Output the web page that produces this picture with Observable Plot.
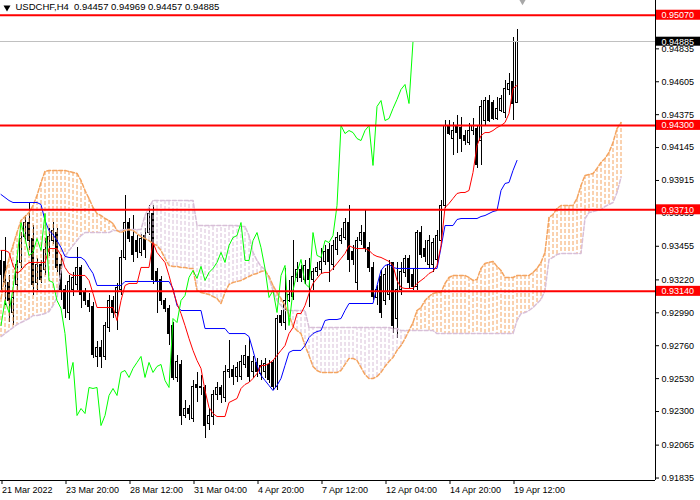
<!DOCTYPE html>
<html><head><meta charset="utf-8">
<script src="https://cdn.jsdelivr.net/npm/d3@7"></script>
<script src="https://cdn.jsdelivr.net/npm/@observablehq/plot@0.6"></script>
<style>
html,body{margin:0;padding:0;background:#fff;}
#chart svg{display:block}
</style>
</head><body><div id="chart"></div>
<script>
// USDCHF H4 candles (bar index 0 = 21 Mar 2022 00:00)
const open = [
.93349,.93342,.93195,.92992,.93181,.93335,.93523,.93621,.93509,.93195,
.93321,.93286,.93412,.93495,.93551,.93321,.93146,.92992,.93146,.93181,
.93300,.93125,.93076,.93034,.92678,.92747,.92678,.92887,.93076,.92992,
.93146,.93370,.93621,.93523,.93495,.93405,.93530,.93551,.93684,.93272,
.93216,.93076,.93020,.92901,.92531,.92622,.92272,.92321,.92251,.92482,
.92461,.92461,.92216,.92265,.92412,.92461,.92391,.92573,.92587,.92538,
.92538,.92622,.92678,.92573,.92636,.92559,.92573,.92622,.92636,.92468,
.92971,.92922,.93076,.93097,.93230,.93286,.93216,.93286,.93216,.93272,
.93286,.93342,.93426,.93321,.93426,.93495,.93516,.93621,.93412,.93195,
.93495,.93551,.93446,.93300,.93090,.93237,.93076,.93111,.93335,.92950,
.93146,.93265,.93363,.93251,.93167,.93551,.93439,.93321,.93321,.93356,
.93495,.93740,.94299,.94208,.94299,.94285,.94229,.94180,.94264,.94278,
.94194,.94334,.94474,.94460,.94348,.94404,.94390,.94544,.94600,.94457];
const high = [
.93426,.93516,.93251,.93132,.93356,.93551,.93670,.93754,.93600,.93370,
.93356,.93509,.93579,.93621,.93579,.93391,.93181,.93251,.93272,.93446,
.93321,.93160,.93125,.93062,.92789,.92796,.92922,.93111,.93104,.93195,
.93426,.93810,.93649,.93670,.93530,.93537,.93579,.93740,.93740,.93300,
.93244,.93090,.93041,.92922,.92692,.92657,.92377,.92342,.92517,.92573,
.92552,.92482,.92321,.92447,.92503,.92482,.92622,.92796,.92622,.92643,
.92692,.92761,.92810,.92685,.92671,.92657,.92671,.92657,.92657,.92971,
.93006,.93300,.93216,.93495,.93342,.93321,.93356,.93370,.93300,.93342,
.93439,.93460,.93474,.93495,.93551,.93579,.93649,.93740,.93460,.93516,
.93600,.93705,.93481,.93342,.93181,.93286,.93300,.93356,.93342,.93342,
.93342,.93391,.93391,.93300,.93565,.93593,.93495,.93530,.93509,.93565,
.93775,.94334,.94334,.94320,.94369,.94355,.94264,.94313,.94348,.94299,
.94474,.94495,.94509,.94474,.94495,.94509,.94614,.94662,.94914,.94969];
const low = [
.93146,.93041,.92922,.92901,.93146,.93300,.93495,.93426,.93111,.93146,
.93195,.93251,.93384,.93467,.93272,.93076,.92950,.92936,.93104,.93146,
.93020,.93041,.92992,.92671,.92608,.92601,.92657,.92852,.92950,.92866,
.93111,.93356,.93481,.93342,.93370,.93384,.93370,.93530,.93188,.92985,
.93041,.92992,.92761,.92517,.92503,.92202,.92251,.92237,.92223,.92363,
.92412,.92111,.92167,.92202,.92377,.92356,.92363,.92531,.92482,.92503,
.92517,.92601,.92503,.92531,.92538,.92517,.92531,.92496,.92447,.92447,
.92894,.92866,.93062,.93076,.93202,.93202,.93188,.93027,.93146,.93244,
.93258,.93321,.93202,.93286,.93391,.93467,.93495,.93272,.93321,.93146,
.93460,.93412,.93272,.93076,.93041,.92950,.93041,.93076,.92845,.92810,
.93111,.93237,.93160,.93146,.93146,.93370,.93342,.93300,.93272,.93321,
.93474,.93719,.94229,.94090,.94104,.94111,.94159,.94159,.94229,.93999,
.94020,.94299,.94320,.94334,.94334,.94390,.94348,.94509,.94334,.94457];
const close = [
.93251,.93195,.93076,.93090,.93321,.93509,.93621,.93495,.93181,.93321,
.93216,.93426,.93523,.93565,.93300,.93146,.93020,.93202,.93230,.93300,
.93111,.93076,.93034,.92692,.92747,.92678,.92901,.93076,.92992,.93160,
.93370,.93621,.93509,.93391,.93412,.93509,.93426,.93684,.93216,.93202,
.93076,.93020,.92845,.92531,.92643,.92272,.92321,.92286,.92468,.92461,
.92468,.92202,.92272,.92412,.92461,.92412,.92573,.92587,.92538,.92601,
.92643,.92685,.92538,.92643,.92573,.92615,.92629,.92517,.92468,.92950,
.92922,.93076,.93111,.93237,.93286,.93230,.93314,.93216,.93272,.93300,
.93342,.93412,.93342,.93460,.93516,.93530,.93621,.93356,.93356,.93495,
.93551,.93446,.93300,.93097,.93146,.92992,.93251,.93321,.92901,.93146,
.93272,.93363,.93195,.93167,.93551,.93391,.93377,.93495,.93481,.93530,
.93740,.94299,.94243,.94264,.94250,.94208,.94194,.94264,.94299,.94020,
.94432,.94474,.94334,.94348,.94418,.94481,.94551,.94586,.94453,.94885];

// Ichimoku lines
const tenkan = [
.93426,.93426,.93412,.93321,.93265,.93286,.93321,.93342,.93342,.93342,
.93342,.93342,.93439,.93439,.93439,.93391,.93307,.93265,.93251,.93251,
.93251,.93251,.93216,.93125,.93027,.93027,.93027,.93027,.93027,.92936,
.93076,.93181,.93195,.93195,.93195,.93307,.93307,.93307,.93481,.93412,
.93377,.93342,.93251,.93146,.93055,.92985,.92901,.92810,.92727,.92657,
.92601,.92447,.92328,.92286,.92265,.92265,.92265,.92363,.92377,.92391,
.92461,.92489,.92503,.92531,.92566,.92622,.92622,.92636,.92657,.92692,
.92727,.92761,.92845,.92887,.92985,.92985,.93041,.93125,.93195,.93230,
.93265,.93272,.93272,.93300,.93335,.93370,.93405,.93460,.93446,.93439,
.93439,.93439,.93426,.93398,.93384,.93377,.93363,.93349,.93321,.93216,
.93167,.93160,.93160,.93160,.93195,.93216,.93237,.93265,.93279,.93321,
.93460,.93726,.93754,.93789,.93824,.93831,.93831,.93845,.93971,.94159,
.94229,.94250,.94250,.94264,.94285,.94299,.94320,.94383,.94558,.94579];
const kijun = [
.93817,.93796,.93775,.93761,.93761,.93761,.93761,.93761,.93761,.93761,
.93747,.93635,.93565,.93537,.93495,.93446,.93384,.93377,.93377,.93377,
.93377,.93356,.93307,.93265,.93181,.93181,.93181,.93181,.93181,.93181,
.93181,.93209,.93209,.93209,.93209,.93209,.93209,.93209,.93209,.93209,
.93209,.93209,.93209,.93160,.93041,.93006,.93006,.93006,.93006,.93006,
.93006,.92880,.92880,.92880,.92880,.92880,.92880,.92845,.92845,.92845,
.92845,.92845,.92824,.92727,.92622,.92552,.92517,.92482,.92447,.92482,
.92531,.92622,.92713,.92727,.92727,.92727,.92761,.92817,.92845,.92859,
.92866,.92936,.92943,.92943,.92943,.92950,.93006,.93055,.93055,.93055,
.93055,.93055,.93055,.93055,.93181,.93286,.93321,.93328,.93307,.93300,
.93300,.93300,.93300,.93300,.93300,.93300,.93300,.93300,.93300,.93300,
.93446,.93600,.93600,.93600,.93642,.93649,.93649,.93649,.93649,.93649,
.93663,.93670,.93684,.93698,.93705,.93845,.93894,.93901,.93985,.94055];
const spanA = [
.93090,.93251,.93370,.93460,.93551,.93635,.93663,.93691,.93740,.93810,
.93901,.93978,.93985,.93985,.93985,.93985,.93985,.93978,.93971,.93964,
.93915,.93845,.93789,.93726,.93684,.93670,.93649,.93635,.93614,.93565,
.93551,.93565,.93572,.93565,.93544,.93523,.93509,.93495,.93474,.93460,
.93426,.93370,.93321,.93314,.93314,.93307,.93307,.93300,.93300,.93146,
.93132,.93125,.93118,.93104,.93090,.93055,.93132,.93188,.93202,.93209,
.93216,.93230,.93244,.93258,.93265,.93279,.93286,.93244,.93181,.93132,
.93090,.93041,.92978,.92894,.92866,.92845,.92761,.92692,.92615,.92587,
.92573,.92573,.92573,.92573,.92573,.92587,.92629,.92671,.92671,.92657,
.92608,.92559,.92531,.92531,.92545,.92573,.92615,.92650,.92678,.92727,
.92761,.92810,.92866,.92922,.93006,.93027,.93076,.93104,.93125,.93132,
.93132,.93195,.93237,.93251,.93251,.93251,.93251,.93237,.93216,.93223,
.93300,.93335,.93342,.93349,.93314,.93286,.93237,.93237,.93237,.93251,
.93251,.93251,.93251,.93272,.93300,.93342,.93412,.93656,.93677,.93719,
.93740,.93740,.93740,.93740,.93789,.93880,.93950,.93957,.93964,.93999,
.94041,.94069,.94111,.94180,.94278,.94320];
const spanB = [
.92824,.92845,.92866,.92887,.92908,.92922,.92936,.92950,.92971,.92971,
.92978,.92985,.92999,.93041,.93097,.93286,.93384,.93426,.93460,.93495,
.93530,.93551,.93551,.93551,.93551,.93551,.93551,.93551,.93565,.93565,
.93565,.93572,.93572,.93572,.93572,.93572,.93670,.93726,.93775,.93775,
.93775,.93775,.93775,.93775,.93775,.93775,.93775,.93775,.93775,.93600,
.93600,.93600,.93600,.93600,.93600,.93600,.93600,.93600,.93600,.93600,
.93593,.93593,.93530,.93412,.93356,.93314,.93293,.93230,.93146,.93076,
.93041,.93006,.93006,.93006,.93006,.93006,.93006,.92887,.92887,.92887,
.92887,.92887,.92887,.92887,.92887,.92887,.92887,.92887,.92887,.92887,
.92887,.92887,.92887,.92887,.92887,.92887,.92887,.92887,.92880,.92880,
.92866,.92866,.92866,.92866,.92866,.92866,.92866,.92866,.92866,.92845,
.92845,.92845,.92845,.92845,.92845,.92845,.92845,.92845,.92845,.92845,
.92845,.92845,.92845,.92845,.92845,.92845,.92845,.92845,.92845,.92936,
.92985,.92992,.93006,.93027,.93055,.93083,.93146,.93363,.93377,.93398,
.93405,.93405,.93405,.93405,.93405,.93405,.93649,.93691,.93698,.93705,
.93712,.93733,.93747,.93761,.93831,.93936];

const xTickIndex = [0,16,32,48,64,80,96,112,128];
const xTickLabels = ["21 Mar 2022","23 Mar 20:00","28 Mar 12:00","31 Mar 04:00","4 Apr 20:00","7 Apr 12:00","12 Apr 04:00","14 Apr 20:00","19 Apr 12:00"];
const yTicks = [0.94835,0.94605,0.94375,0.94145,0.93915,0.93685,0.93455,0.93220,0.92990,0.92760,0.92530,0.92300,0.92065,0.91835];
const levels = [0.95070,0.94300,0.93710,0.93140];
const bid = [0.94885];
const header = "USDCHF,H4  0.94457 0.94969 0.94457 0.94885";
const chikouShift = 26;

const candles = open.map((o,i)=>({i, open:o, high:high[i], low:low[i], close:close[i]}));
const lines = tenkan.map((t,i)=>({i, tenkan:t, kijun:kijun[i]}));
const cloud = spanA.map((a,i)=>({i, a, b:spanB[i]}));
const chikou = candles.slice(chikouShift).map(d=>({i:d.i-chikouShift, close:d.close}));

const yDomain = [0.918178, 0.95173];
const px = (yDomain[1]-yDomain[0])/480;
const ORANGE = "#f4a460", THISTLE = "#d8bfd8";
const xAxisPos = 163.625, xRight = 174.875;

const chart = Plot.plot({
  width: 700, height: 500,
  marginLeft: 0, marginRight: 45, marginTop: 0, marginBottom: 20,
  x: {type: "linear", domain: [-0.125, xAxisPos]},
  y: {domain: yDomain},
  style: {fontFamily: "'Liberation Sans', Arial, sans-serif", fontSize: "9px", background: "#fff", color: "#000", overflow: "hidden"},
  marks: [
    // candles
    Plot.ruleX(candles, {x: "i", y1: "low", y2: "high", stroke: "#000", shapeRendering: "crispEdges"}),
    Plot.rect(candles, {filter: d => d.close >= d.open, x1: d => d.i - 0.25, x2: d => d.i + 0.25, y1: "open", y2: "close", fill: "#fff", stroke: "#000", shapeRendering: "crispEdges"}),
    Plot.rect(candles, {filter: d => d.close < d.open, x1: d => d.i - 0.25, x2: d => d.i + 0.25, y1: "open", y2: "close", fill: "#000", stroke: "#000", shapeRendering: "crispEdges"}),
    // cloud hatching (vertical dotted histogram) and its edges
    Plot.ruleX(cloud, {filter: d => d.a >= d.b, x: "i", y1: "a", y2: "b", stroke: ORANGE, strokeWidth: 1, strokeDasharray: "4,2"}),
    Plot.ruleX(cloud, {filter: d => d.a < d.b, x: "i", y1: "a", y2: "b", stroke: THISTLE, strokeWidth: 1, strokeDasharray: "4,2"}),
    Plot.line(cloud, {x: "i", y: "b", stroke: THISTLE, strokeDasharray: "4,2"}),
    Plot.line(cloud, {x: "i", y: "a", stroke: ORANGE, strokeDasharray: "4,2"}),
    // Ichimoku lines
    Plot.line(lines, {x: "i", y: "kijun", stroke: "#0000ff", strokeWidth: 1}),
    Plot.line(lines, {x: "i", y: "tenkan", stroke: "#ff0000", strokeWidth: 1}),
    Plot.line(chikou, {x: "i", y: "close", stroke: "#00ff00", strokeWidth: 1}),
    // horizontal lines
    Plot.ruleY(bid, {stroke: "#c0c0c0", shapeRendering: "crispEdges"}),
    Plot.ruleY(levels, {stroke: "#ff0000", strokeWidth: 2}),
    // axes
    Plot.axisY({anchor: "right", ticks: yTicks, tickFormat: d => d.toFixed(5), tickSize: 3, tickPadding: 3, label: null, fontSize: 9, fill: "#000"}),
    Plot.axisX({ticks: xTickIndex, tickFormat: d => xTickLabels[xTickIndex.indexOf(d)], tickSize: 4, tickPadding: 2, textAnchor: "start", dx: 1, label: null, fontSize: 9, fill: "#000"}),
    Plot.ruleX([xAxisPos], {stroke: "#000", shapeRendering: "crispEdges"}),
    Plot.ruleY([yDomain[0]], {stroke: "#000", shapeRendering: "crispEdges"}),
    // price boxes
    Plot.rect(levels, {x1: xAxisPos + 0.25, x2: xRight, y1: d => d - 5*px, y2: d => d + 5*px, fill: "#ff0000"}),
    Plot.text(levels, {x: xAxisPos, y: d => d, text: d => d.toFixed(5), fill: "#fff", textAnchor: "start", dx: 6, fontSize: 9}),
    Plot.rect(bid, {x1: xAxisPos + 0.25, x2: xRight, y1: d => d - 4.5*px, y2: d => d + 4.5*px, fill: "#000"}),
    Plot.text(bid, {x: xAxisPos, y: d => d, text: d => d.toFixed(5), fill: "#fff", textAnchor: "start", dx: 6, fontSize: 9}),
    // header
    Plot.text([header], {frameAnchor: "top-left", dx: 15, dy: 3, lineAnchor: "top", textAnchor: "start", fill: "#000", fontSize: 9.5}),
    Plot.dot([0], {frameAnchor: "top-left", dx: 6.5, dy: 7, symbol: "triangle", rotate: 180, r: 2.6, fill: "#000", stroke: null}),
    Plot.dot([0], {frameAnchor: "top-left", dx: 522, dy: -3, symbol: "triangle", rotate: 180, r: 5, fill: "#a8a8a8", stroke: null})
  ]
});
document.getElementById("chart").appendChild(chart);
</script>
</body></html>
